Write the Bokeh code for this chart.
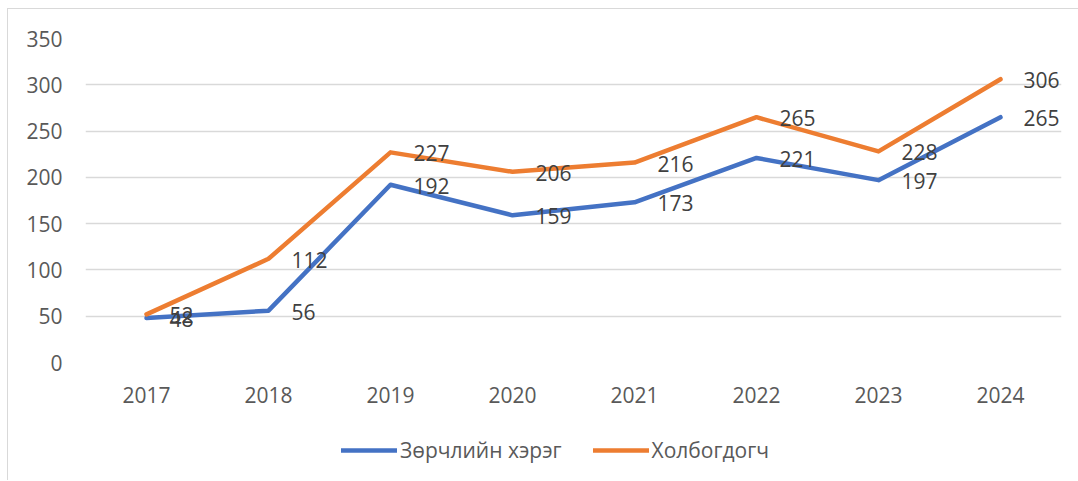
from bokeh.plotting import figure
from bokeh.layouts import column
from bokeh.models import ColumnDataSource, LabelSet, Legend, LegendItem, FixedTicker, Range1d
from bokeh.core.properties import value
from bokeh.embed import file_html
from bokeh.resources import INLINE

years = ["2017", "2018", "2019", "2020", "2021", "2022", "2023", "2024"]
violations = [48, 56, 192, 159, 173, 221, 197, 265]
involved = [52, 112, 227, 206, 216, 265, 228, 306]
series_names = ["Зөрчлийн хэрэг", "Холбогдогч"]
y_ticks = [0, 50, 100, 150, 200, 250, 300, 350]

BLUE = "#4472C4"
ORANGE = "#ED7D31"
FONT = "Open Sans"

src = ColumnDataSource(dict(
    x=years,
    a=violations, b=involved,
    at=[str(v) for v in violations], bt=[str(v) for v in involved],
))

p = figure(width=1070, height=413, frame_width=976, frame_height=324, x_range=years, y_range=(0, 350),
           output_backend="svg", toolbar_location=None,
           min_border_left=77, min_border_right=17, min_border_top=29, min_border_bottom=60)
p.outline_line_color = None
p.xgrid.grid_line_color = None
p.ygrid.grid_line_color = "#d9d9d9"
p.ygrid.grid_line_width = 1.3
p.yaxis.ticker = FixedTicker(ticks=y_ticks)
for ax in (p.xaxis[0], p.yaxis[0]):
    ax.axis_line_color = None
    ax.major_tick_line_color = None
    ax.minor_tick_line_color = None
    ax.major_tick_out = 0
    ax.major_tick_in = 0
    ax.minor_tick_out = 0
    ax.major_label_text_font = FONT
    ax.major_label_text_font_size = "21px"
    ax.major_label_text_color = "#595959"
p.yaxis.major_label_standoff = 23
p.xaxis.major_label_standoff = 24
p.x_range.range_padding = 0

r1 = p.line("x", "a", source=src, line_color=BLUE, line_width=4.5, line_join="round", line_cap="round")
r2 = p.line("x", "b", source=src, line_color=ORANGE, line_width=4.5, line_join="round", line_cap="round")

for col, tcol in (("a", "at"), ("b", "bt")):
    p.add_layout(LabelSet(x="x", y=col, text=tcol, source=src, x_offset=23, y_offset=-1,
                          text_align="left", text_baseline="middle",
                          text_font=value(FONT), text_font_size="21px", text_color="#404040"))

# legend strip below the chart (its proxy lines sit outside the strip's visible range)
lf = figure(width=1070, height=58, x_range=Range1d(0, 1), y_range=Range1d(0, 1),
            output_backend="svg", toolbar_location=None,
            min_border_left=0, min_border_right=0, min_border_top=0, min_border_bottom=0)
lf.axis.visible = False
lf.grid.visible = False
lf.outline_line_color = None
proxy = ColumnDataSource(dict(x=[5, 6], y=[5, 6]))
l1 = lf.line("x", "y", source=proxy, line_color=BLUE, line_width=4.5, line_cap="round")
l2 = lf.line("x", "y", source=proxy, line_color=ORANGE, line_width=4.5, line_cap="round")
legend = Legend(items=[LegendItem(label=series_names[0], renderers=[l1]),
                       LegendItem(label=series_names[1], renderers=[l2])],
                orientation="horizontal", location=(256, 16),
                label_text_font=FONT, label_text_font_size="21px", label_text_color="#595959",
                glyph_width=56, glyph_height=24, label_standoff=3, spacing=31,
                border_line_color=None, background_fill_alpha=0, margin=0, padding=0)
lf.add_layout(legend, "center")

layout = column(p, lf, spacing=0,
                styles={"border-left": "1px solid #d9d9d9", "border-top": "1px solid #d9d9d9",
                        "margin-left": "7px", "margin-top": "8px"})

open("out.html", "w").write(file_html(layout, INLINE))
